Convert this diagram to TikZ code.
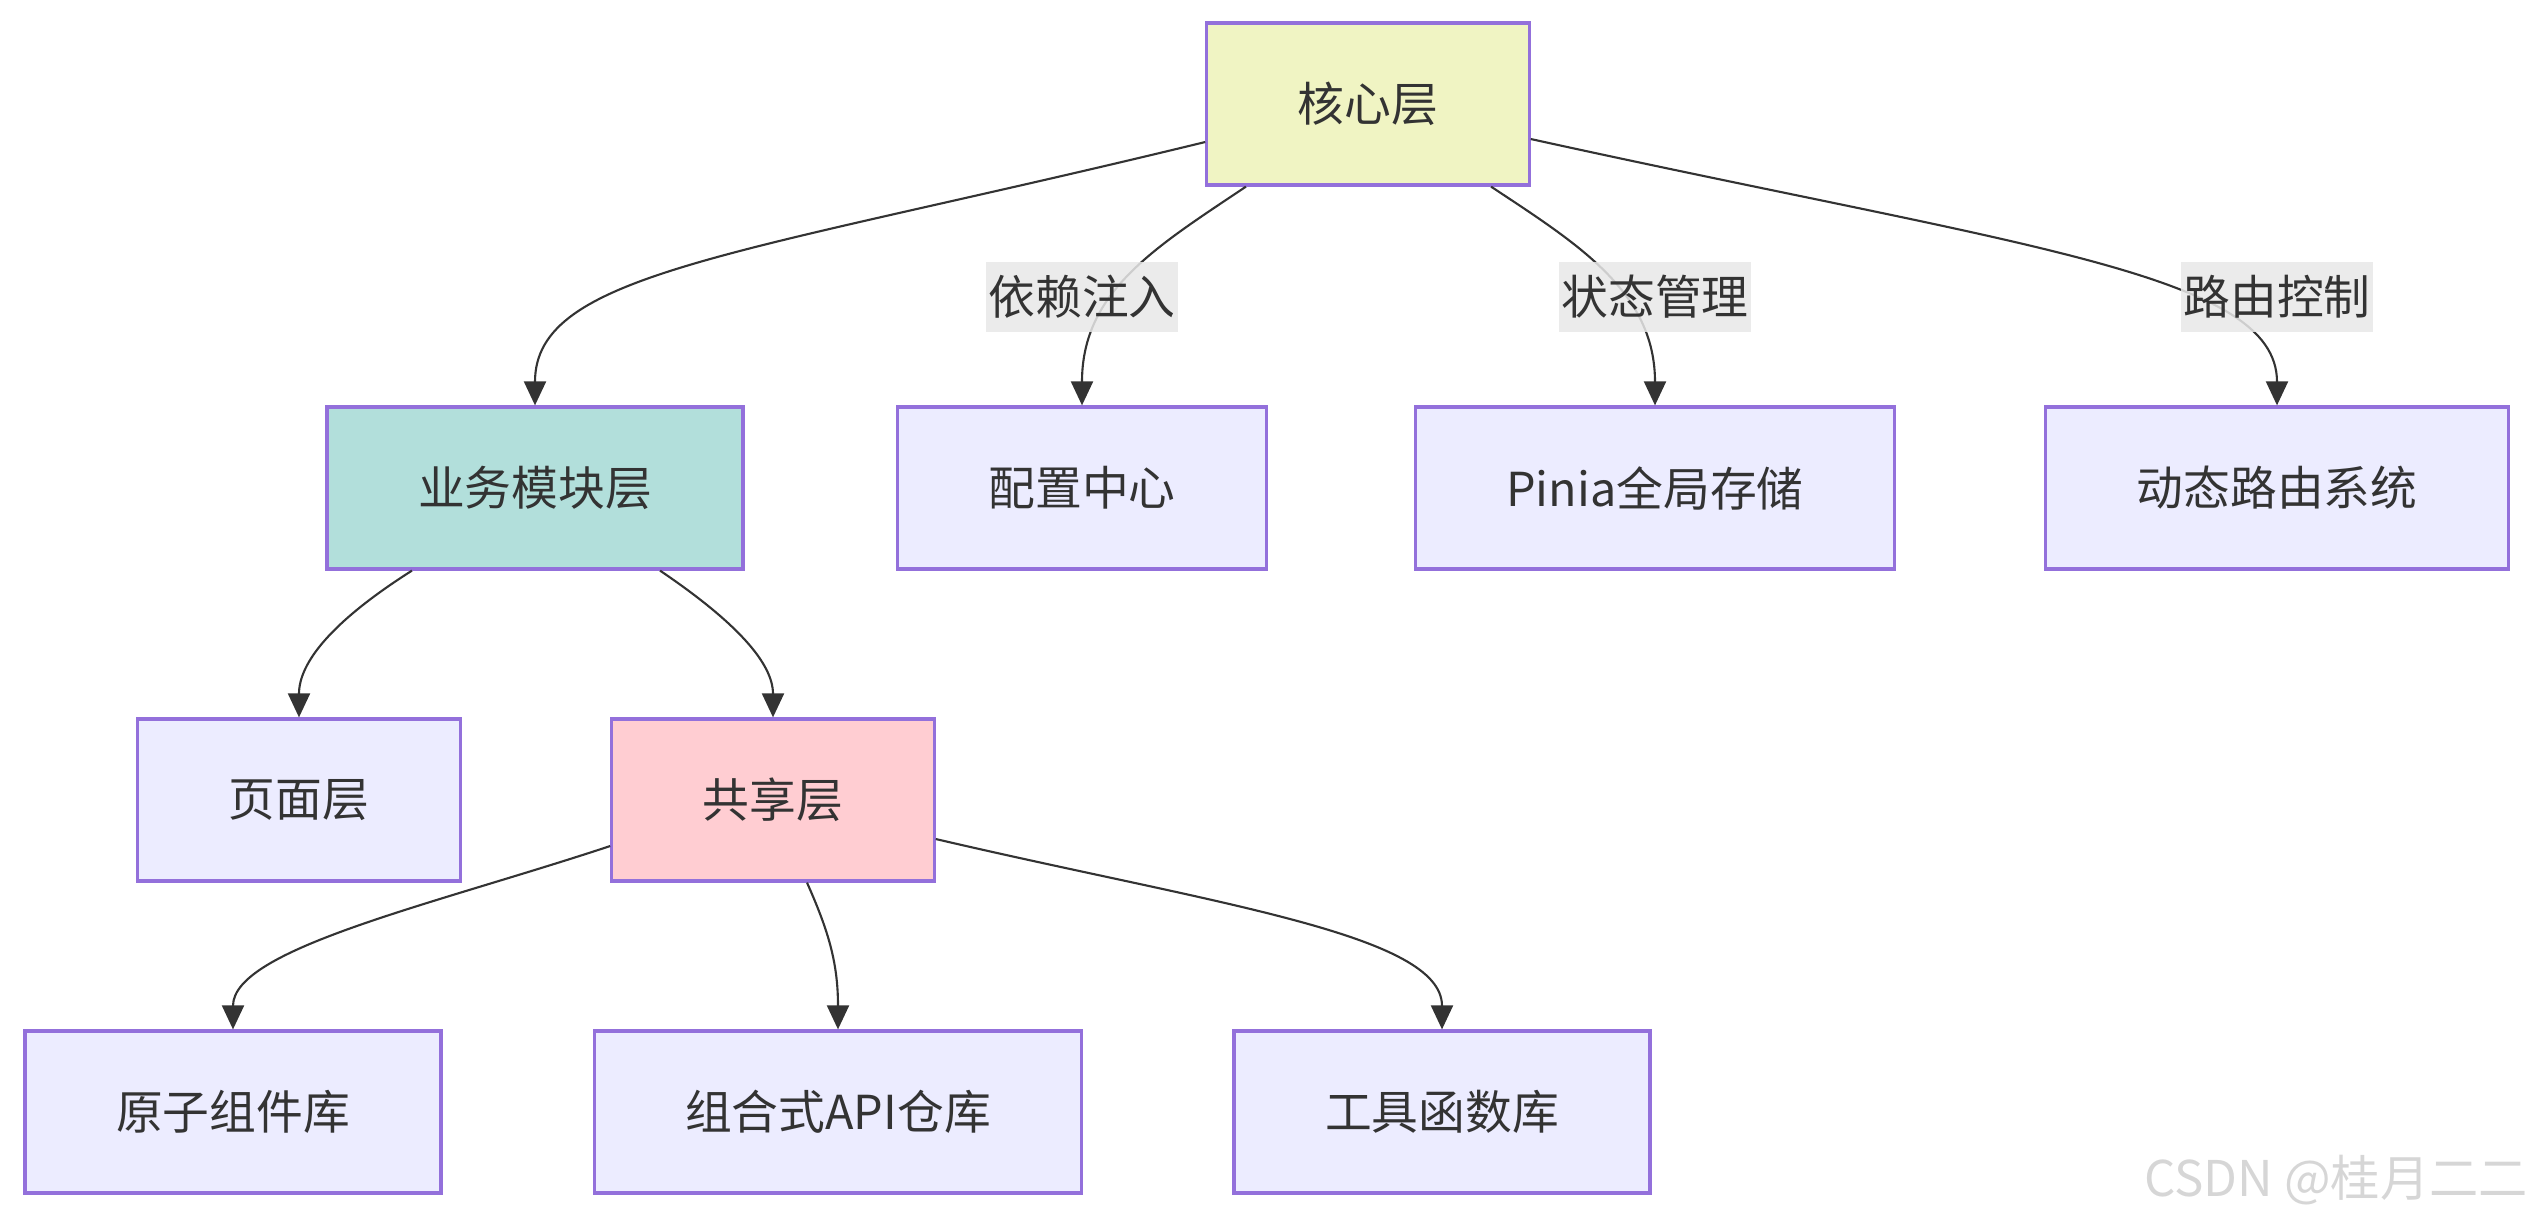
\documentclass[tikz,border=0pt]{standalone}
\usepackage{fontspec}
\setmainfont{Noto Sans CJK SC}
\usetikzlibrary{arrows.meta}

\definecolor{boxfill}{HTML}{ECECFF}
\definecolor{boxline}{HTML}{9370DB}
\definecolor{corefill}{HTML}{F0F4C3}
\definecolor{bizfill}{HTML}{B2DFDB}
\definecolor{sharefill}{HTML}{FFCDD2}
\definecolor{inkgray}{HTML}{333333}
\definecolor{labelfill}{HTML}{E8E8E8}
\definecolor{markgray}{HTML}{D6D6D6}

\tikzset{
  layer/.style={draw=boxline, line width=0.9pt, fill=boxfill, text=inkgray,
    font=\fontsize{13.3}{16}\selectfont, inner xsep=0.91cm, minimum height=1.62cm},
  edge/.style={draw=inkgray, line width=0.6pt, -{Triangle[length=0.24cm,width=0.22cm]}},
  edgelabel/.style={fill=labelfill, fill opacity=0.85, text opacity=1, text=inkgray,
    font=\fontsize{13.3}{16}\selectfont, inner xsep=0.02cm, inner ysep=0pt, minimum height=0.70cm},
  watermark/.style={text=markgray, font=\fontsize{14}{16}\selectfont, inner sep=0pt}
}

\begin{document}
\begin{tikzpicture}[x=0.01cm, y=-0.01cm]
    \useasboundingbox (0,0) rectangle (2535,1218);

    % Core layer (top)
    \node[layer, fill=corefill] (core) at (1368,104) {核心层};

    % Second row
    \node[layer, fill=bizfill] (biz) at (535,488) {业务模块层};
    \node[layer] (config) at (1082,488) {配置中心};
    \node[layer] (store) at (1655,488) {Pinia全局存储};
    \node[layer] (router) at (2277,488) {动态路由系统};

    % Third row
    \node[layer] (page) at (299,800) {页面层};
    \node[layer, fill=sharefill] (share) at (773,800) {共享层};

    % Bottom row
    \node[layer] (atom) at (233,1112) {原子组件库};
    \node[layer] (compose) at (838,1112) {组合式API仓库};
    \node[layer] (util) at (1442,1112) {工具函数库};

    % Connectors from the core layer
    \draw[edge] ([yshift=-0.38cm]core.west) .. controls (737,256) and (535,272) .. (biz.north);
    \draw[edge] ([xshift=-1.22cm]core.south) .. controls (1156,247) and (1082,291) .. (config.north);
    \draw[edge] ([xshift=1.23cm]core.south) .. controls (1576,243) and (1655,291) .. (store.north);
    \draw[edge] ([yshift=-0.35cm]core.east) .. controls (2021,247) and (2277,273) .. (router.north);

    % Connectors from the business layer
    \draw[edge] ([xshift=-1.23cm]biz.south) .. controls (331,622) and (299,663) .. (page.north);
    \draw[edge] ([xshift=1.25cm]biz.south) .. controls (736,622) and (773,663) .. (share.north);

    % Connectors from the shared layer
    \draw[edge] ([yshift=-0.46cm]share.west) .. controls (432,905) and (233,949) .. (atom.north);
    \draw[edge] ([xshift=0.34cm]share.south) .. controls (828,930) and (838,962) .. (compose.north);
    \draw[edge] ([yshift=-0.39cm]share.east) .. controls (1214,904) and (1442,934) .. (util.north);

    % Edge labels
    \node[edgelabel] (injectlbl) at (1082,297) {依赖注入};
    \node[edgelabel] (statelbl) at (1655,297) {状态管理};
    \node[edgelabel] (routelbl) at (2277,297) {路由控制};

    % Watermark
    \node[watermark] (mark) at (2336,1180) {CSDN @桂月二二};
\end{tikzpicture}
\end{document}
